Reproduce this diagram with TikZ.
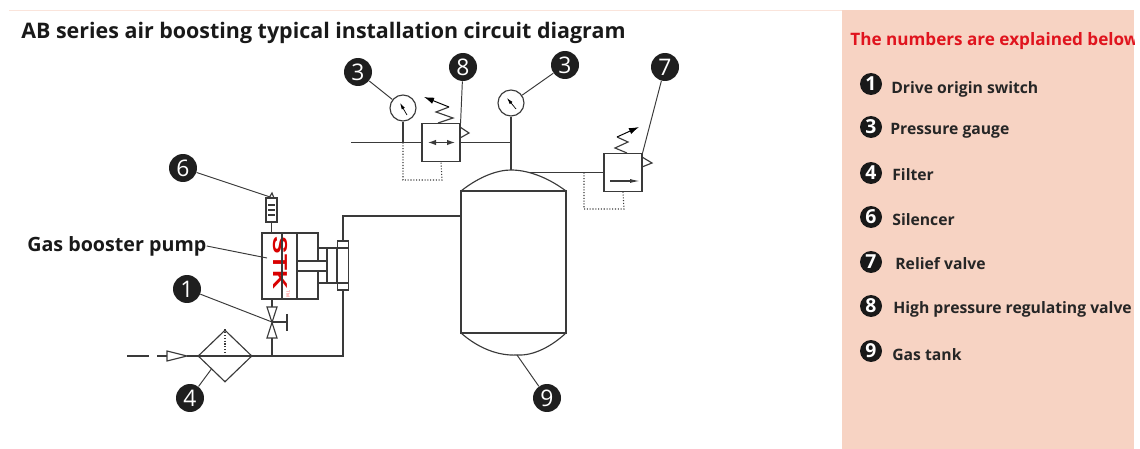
\documentclass[tikz,border=0pt]{standalone}
\usepackage{fontspec}
\setmainfont{Open Sans}
\newfontfamily\logofont{Liberation Sans}
\usepackage{xcolor}
\usetikzlibrary{arrows.meta,shapes.geometric}
\definecolor{panelpink}{HTML}{F7D3C3}
\definecolor{linegray}{HTML}{3A3A3A}
\definecolor{titlered}{HTML}{E0141E}
\tikzset{
    pipe/.style={draw=linegray, line width=0.65pt},
    pilot/.style={draw=linegray, line width=0.6pt, densely dotted},
    leader/.style={draw=linegray, line width=0.55pt},
    pointer/.style={draw=black, line width=0.55pt, -{Latex[length=0.2cm,width=0.13cm]}},
    bubble/.style={circle, fill=black!88, text=white, minimum size=0.56cm, inner sep=0pt, font=\fontsize{13}{13}\selectfont},
    keydot/.style={circle, fill=black!90, text=white, minimum size=0.44cm, inner sep=0pt, font=\bfseries\fontsize{11}{11}\selectfont},
    keytext/.style={anchor=west, inner sep=0pt, text=black!85, font=\bfseries\fontsize{8.95}{11}\selectfont},
    gauge/.style={pipe, circle, fill=white, minimum size=0.52cm, inner sep=0pt},
    valvebox/.style={pipe, rectangle, fill=white, minimum size=0.76cm, inner sep=0pt},
}
\begin{document}
\begin{tikzpicture}[x=0.02cm, y=-0.02cm]
    \useasboundingbox (0,0) rectangle (1140,449);
    \draw[panelpink!60, line width=0.5pt] (9,10.5) -- (842,10.5);

    % Legend panel
    \begin{scope}
        \clip (842,10) rectangle (1134,449);
        \fill[panelpink] (842,10) rectangle (1134,449);
        \node[anchor=west, inner sep=0pt, text=titlered, font=\bfseries\fontsize{9.75}{12}\selectfont] (keyhead) at (850,41) {The numbers are explained below};
        \node[keydot] (key1) at (871,84) {1};
        \node[keytext] (text1) at (891,89) {Drive origin switch};
        \node[keydot] (key3) at (871,127) {3};
        \node[keytext] (text3) at (890,131) {Pressure gauge};
        \node[keydot] (key4) at (871,173) {4};
        \node[keytext] (text4) at (892,175) {Filter};
        \node[keydot] (key6) at (871,217) {6};
        \node[keytext] (text6) at (892,220) {Silencer};
        \node[keydot] (key7) at (871,262) {7};
        \node[keytext] (text7) at (895,264) {Relief valve};
        \node[keydot] (key8) at (871,306) {8};
        \node[keytext] (text8) at (893,309) {High pressure regulating valve};
        \node[keydot] (key9) at (871,351) {9};
        \node[keytext] (text9) at (892,355) {Gas tank};
    \end{scope}

    \node[anchor=west, inner sep=0pt, text=black!90, font=\bfseries\fontsize{12.2}{14}\selectfont] (title) at (21,33) {AB series air boosting typical installation circuit diagram};
    \node[anchor=west, inner sep=0pt, text=black!90, font=\bfseries\fontsize{11.2}{13}\selectfont] (pumplabel) at (27,246) {Gas booster pump};

    % Gas tank
    \coordinate (tankTL) at (461,191);
    \coordinate (tankTR) at (566,191);
    \coordinate (tankBL) at (461,333);
    \coordinate (tankBR) at (566,333);
    \coordinate (tankTop) at (511,170);
    \coordinate (tankLow) at (517,355);
    \draw[pipe] (tankTL) rectangle (tankBR);
    \draw[pipe] (tankTL) .. controls (480,176) and (498,170) .. (tankTop) .. controls (526,170) and (546,176) .. (tankTR);
    \draw[pipe] (tankBL) .. controls (478,348) and (498,356) .. (tankLow) .. controls (534,356) and (552,346) .. (tankBR);

    % Upper line with regulating valve
    \node[valvebox] (regvalve) at (441,142.5) {};
    \node[gauge] (gaugeA) at (403,108) {};
    \node[gauge] (gaugeB) at (511,103) {};
    \coordinate (lineIn) at (351,142.5);
    \coordinate (teeA) at (403,142.5);
    \coordinate (teeB) at (511,142.5);
    \draw[pipe] (lineIn) -- (regvalve.west);
    \draw[pipe] (regvalve.east) -- (teeB);
    \draw[pipe] (gaugeA) -- (teeA);
    \draw[pipe] (gaugeB) -- (tankTop);
    \draw[pilot] (teeA) -- (403,180) -- (442,180) -- (regvalve.south);
    \draw[pipe, {Latex[length=0.16cm,width=0.11cm]}-{Latex[length=0.16cm,width=0.11cm]}] (428,142.5) -- (455,142.5);
    \draw[line width=0.4pt, -{Latex[length=0.13cm,width=0.07cm]}] (407,115) -- (400,103);
    \draw[line width=0.4pt, -{Latex[length=0.13cm,width=0.07cm]}] (516,109) -- (507,98);
    \draw[pipe] (460,127) -- (469,133) -- (460,138);
    \draw[pipe] (438,123) -- (453,118) -- (436,112) -- (449,107);
    \draw[pointer] (449,107) -- (424,97);

    % Relief valve
    \node[valvebox] (relief) at (623,172.5) {};
    \coordinate (teeC) at (584,172.5);
    \draw[pipe] (530,172.5) -- (relief.west);
    \draw[pilot] (teeC) -- (584,209) -- (624,209) -- (relief.south);
    \draw[pipe, -{Latex[length=0.2cm,width=0.08cm]}] (610,181) -- (640,181);
    \draw[pipe] (642,157) -- (652,163) -- (642,167);
    \draw[pipe] (627,153) -- (615,148) -- (628,142) -- (617,137);
    \draw[pointer] (617,137) -- (639,127);

    % Booster pump
    \node[pipe, rectangle, minimum width=1.12cm, minimum height=1.32cm, inner sep=0pt] (pump) at (290,266) {};
    \node[rotate=-90, xscale=1.3, text=red!85!black, inner sep=0pt, font=\logofont\bfseries\fontsize{11.5}{12}\selectfont] (logo) at (280,263) {STK};
    \node[text=red!70, inner sep=0pt, rotate=-90, font=\fontsize{2.5}{3}\selectfont] (logotm) at (288,294) {TM};
    \draw[pipe] (282,233) -- (282,299);
    \draw[pipe] (297,233) -- (297,299);
    \draw[pipe] (318,248) rectangle (337,283);
    \draw[pipe] (327,248) -- (327,283);
    \draw[pipe, fill=white] (297,261) rectangle (327,271);
    \node[pipe, rectangle, minimum width=0.22cm, minimum height=0.98cm, inner sep=0pt] (cyl) at (343,265.5) {};
    \draw[pipe] (337,248) -- (348,248);
    \draw[pipe] (337,283) -- (348,283);

    % Silencer
    \node[pipe, rectangle, minimum width=0.22cm, minimum height=0.48cm, inner sep=0pt] (silencer) at (271.5,210) {};
    \draw[pipe] (269,198) -- (272,193) -- (274,198);
    \draw[pipe] (268,205) -- (275,205);
    \draw[pipe] (268,210) -- (275,210);
    \draw[pipe] (268,215) -- (275,215);
    \draw[pipe] (silencer.south) -- (silencer.south |- pump.north);

    % Hand valve and filter
    \coordinate (valvemid) at (272,322);
    \coordinate (valvelow) at (272,338);
    \coordinate (teeD) at (272,356);
    \coordinate (teeE) at (343,356);
    \node[pipe, diamond, minimum width=1.08cm, minimum height=1.04cm, inner sep=0pt, aspect=1.04] (filter) at (225,356) {};
    \draw[pipe] (filter.west) -- (filter.east);
    \draw[pilot] (filter.north) -- (filter.center);
    \draw[pipe] (272,299) -- (272,307);
    \draw[pipe] (267,307) -- (277,307) -- (267,338) -- (277,338) -- cycle;
    \draw[pipe] (valvelow) -- (teeD);
    \draw[pipe] (valvemid) -- (287,322);
    \draw[pipe] (287,314) -- (287,331);

    % Main air line
    \coordinate (tankIn) at (461,216);
    \draw[pipe] (filter.east) -- (teeE) -- (cyl.south);
    \draw[pipe] (cyl.north) -- (343,216) -- (tankIn);
    \draw[pipe] (127,356) -- (149,356);
    \draw[pipe] (157,356) -- (167,356);
    \draw[pipe] (167,351) -- (187,356) -- (167,361) -- cycle;
    \draw[pipe] (187,356) -- (filter.west);

    % Numbered markers
    \node[bubble] (num3a) at (358,72) {3};
    \node[bubble] (num8) at (463,67) {8};
    \node[bubble] (num3b) at (565,65) {3};
    \node[bubble] (num7) at (665,67) {7};
    \node[bubble] (num6) at (183,168) {6};
    \node[bubble] (num1) at (187,289) {1};
    \node[bubble] (num4) at (190,398) {4};
    \node[bubble] (num9) at (547,398) {9};
    \draw[leader] (num3a) -- (gaugeA);
    \draw[leader] (num8) -- (regvalve.north east);
    \draw[leader] (num3b) -- (gaugeB);
    \draw[leader] (num7) -- (relief.north east);
    \draw[leader] (num6) -- (silencer.north);
    \draw[leader] (num1) -- (valvemid);
    \draw[leader] (num4) -- (filter.south west);
    \draw[leader] (num9) -- (tankLow);
    \draw[leader] (pumplabel.east) -- (267,258);
\end{tikzpicture}
\end{document}
